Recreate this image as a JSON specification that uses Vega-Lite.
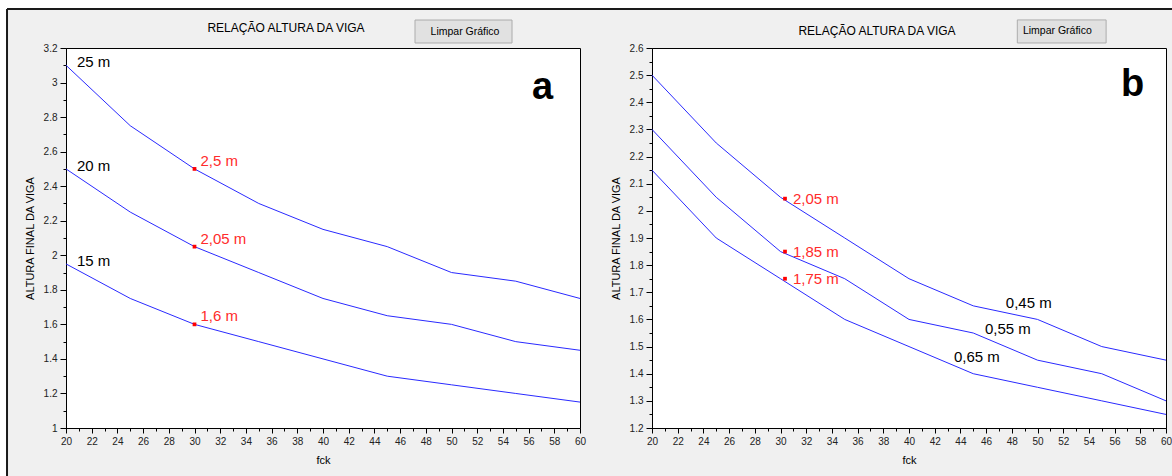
{
  "$schema": "https://vega.github.io/schema/vega-lite/v6.json",
  "background": "#f0f0f0",
  "autosize": {"type": "none"},
  "padding": {"left": 66, "top": 48, "right": 1106, "bottom": 428},
  "bounds": "flush",
  "spacing": 72,
  "config": {
    "font": "Liberation Sans",
    "view": {"stroke": "#000", "fill": "white", "strokeWidth": 1},
    "axis": {"domainColor": "#000", "tickColor": "#000", "labelColor": "#222", "labelFontSize": 10, "titleFontSize": 11, "titleFontWeight": "normal", "titleColor": "#000", "grid": false, "labelOverlap": false, "labelFlush": false, "tickSize": 6},
    "title": {"fontSize": 12, "fontWeight": "normal", "color": "#000"}
  },
  "datasets": {
    "a_lines": [
      {"fck": 20, "altura": 3.1, "vao": "25 m"}, {"fck": 25, "altura": 2.75, "vao": "25 m"}, {"fck": 30, "altura": 2.5, "vao": "25 m"}, {"fck": 35, "altura": 2.3, "vao": "25 m"}, {"fck": 40, "altura": 2.15, "vao": "25 m"}, {"fck": 45, "altura": 2.05, "vao": "25 m"}, {"fck": 50, "altura": 1.9, "vao": "25 m"}, {"fck": 55, "altura": 1.85, "vao": "25 m"}, {"fck": 60, "altura": 1.75, "vao": "25 m"},
      {"fck": 20, "altura": 2.5, "vao": "20 m"}, {"fck": 25, "altura": 2.25, "vao": "20 m"}, {"fck": 30, "altura": 2.05, "vao": "20 m"}, {"fck": 35, "altura": 1.9, "vao": "20 m"}, {"fck": 40, "altura": 1.75, "vao": "20 m"}, {"fck": 45, "altura": 1.65, "vao": "20 m"}, {"fck": 50, "altura": 1.6, "vao": "20 m"}, {"fck": 55, "altura": 1.5, "vao": "20 m"}, {"fck": 60, "altura": 1.45, "vao": "20 m"},
      {"fck": 20, "altura": 1.95, "vao": "15 m"}, {"fck": 25, "altura": 1.75, "vao": "15 m"}, {"fck": 30, "altura": 1.6, "vao": "15 m"}, {"fck": 35, "altura": 1.5, "vao": "15 m"}, {"fck": 40, "altura": 1.4, "vao": "15 m"}, {"fck": 45, "altura": 1.3, "vao": "15 m"}, {"fck": 50, "altura": 1.25, "vao": "15 m"}, {"fck": 55, "altura": 1.2, "vao": "15 m"}, {"fck": 60, "altura": 1.15, "vao": "15 m"}
    ],
    "a_points": [
      {"fck": 30, "altura": 2.5, "label": "2,5 m"},
      {"fck": 30, "altura": 2.05, "label": "2,05 m"},
      {"fck": 30, "altura": 1.6, "label": "1,6 m"}
    ],
    "a_labels": [
      {"fck": 20, "altura": 3.1, "label": "25 m"},
      {"fck": 20, "altura": 2.5, "label": "20 m"},
      {"fck": 20, "altura": 1.95, "label": "15 m"}
    ],
    "a_margin": [
      {"fck": 14.8, "fck2": 106.2, "altura": 3.48, "altura2": 3.4258},
      {"fck": 14.8, "fck2": 15.41, "altura": 3.48, "altura2": 0.7}
    ],
    "a_frame": [
      {"fck": 15.41, "fck2": 106.1, "altura": 3.4258, "altura2": 3.4258},
      {"fck": 15.41, "fck2": 15.41, "altura": 3.4258, "altura2": 0.7}
    ],
    "a_button": [
      {"fck": 47.16, "fck2": 54.71, "altura": 3.362, "altura2": 3.229, "label": "Limpar Gráfico"}
    ],
    "b_lines": [
      {"fck": 20, "altura": 2.5, "secao": "0,45 m"}, {"fck": 25, "altura": 2.25, "secao": "0,45 m"}, {"fck": 30, "altura": 2.05, "secao": "0,45 m"}, {"fck": 35, "altura": 1.9, "secao": "0,45 m"}, {"fck": 40, "altura": 1.75, "secao": "0,45 m"}, {"fck": 45, "altura": 1.65, "secao": "0,45 m"}, {"fck": 50, "altura": 1.6, "secao": "0,45 m"}, {"fck": 55, "altura": 1.5, "secao": "0,45 m"}, {"fck": 60, "altura": 1.45, "secao": "0,45 m"},
      {"fck": 20, "altura": 2.3, "secao": "0,55 m"}, {"fck": 25, "altura": 2.05, "secao": "0,55 m"}, {"fck": 30, "altura": 1.85, "secao": "0,55 m"}, {"fck": 35, "altura": 1.75, "secao": "0,55 m"}, {"fck": 40, "altura": 1.6, "secao": "0,55 m"}, {"fck": 45, "altura": 1.55, "secao": "0,55 m"}, {"fck": 50, "altura": 1.45, "secao": "0,55 m"}, {"fck": 55, "altura": 1.4, "secao": "0,55 m"}, {"fck": 60, "altura": 1.3, "secao": "0,55 m"},
      {"fck": 20, "altura": 2.15, "secao": "0,65 m"}, {"fck": 25, "altura": 1.9, "secao": "0,65 m"}, {"fck": 30, "altura": 1.75, "secao": "0,65 m"}, {"fck": 35, "altura": 1.6, "secao": "0,65 m"}, {"fck": 40, "altura": 1.5, "secao": "0,65 m"}, {"fck": 45, "altura": 1.4, "secao": "0,65 m"}, {"fck": 50, "altura": 1.35, "secao": "0,65 m"}, {"fck": 55, "altura": 1.3, "secao": "0,65 m"}, {"fck": 60, "altura": 1.25, "secao": "0,65 m"}
    ],
    "b_points": [
      {"fck": 30.35, "altura": 2.045, "label": "2,05 m"},
      {"fck": 30.35, "altura": 1.85, "label": "1,85 m"},
      {"fck": 30.35, "altura": 1.75, "label": "1,75 m"}
    ],
    "b_labels": [
      {"fck": 49.32, "altura": 1.662, "label": "0,45 m"},
      {"fck": 47.69, "altura": 1.566, "label": "0,55 m"},
      {"fck": 45.28, "altura": 1.462, "label": "0,65 m"}
    ],
    "b_button": [
      {"fck": 48.43, "fck2": 55.34, "altura": 2.7034, "altura2": 2.6185, "label": "Limpar Gráfico"}
    ]
  },
  "hconcat": [
    {
      "width": 514,
      "height": 380,
      "title": {"text": "RELAÇÃO ALTURA DA VIGA", "anchor": "middle", "frame": "group", "dx": -37, "offset": -35},
      "encoding": {
        "x": {"field": "fck", "type": "quantitative", "scale": {"domain": [20, 60], "nice": false, "zero": false},
          "axis": {"title": "fck", "titlePadding": 8, "labelPadding": 3, "format": "~g",
            "values": [20,21,22,23,24,25,26,27,28,29,30,31,32,33,34,35,36,37,38,39,40,41,42,43,44,45,46,47,48,49,50,51,52,53,54,55,56,57,58,59,60],
            "labelExpr": "datum.value % 2 === 0 ? datum.label : ''",
            "tickSize": {"condition": {"test": "datum.value % 2 === 0", "value": 5}, "value": 3}}},
        "y": {"field": "altura", "type": "quantitative", "scale": {"domain": [1, 3.2], "nice": false, "zero": false},
          "axis": {"title": "ALTURA FINAL DA VIGA", "titlePadding": 8, "labelPadding": 3, "format": "~g",
            "values": [1,1.1,1.2,1.3,1.4,1.5,1.6,1.7,1.8,1.9,2,2.1,2.2,2.3,2.4,2.5,2.6,2.7,2.8,2.9,3,3.1,3.2],
            "labelExpr": "round(datum.value*10) % 2 === 0 ? datum.label : ''",
            "tickSize": {"condition": {"test": "round(datum.value*10) % 2 === 0", "value": 6}, "value": 3}}}
      },
      "layer": [
        {"data": {"name": "a_margin"}, "mark": {"type": "rect", "fill": "#ffffff", "strokeWidth": 0, "clip": false},
          "encoding": {"x2": {"field": "fck2"}, "y2": {"field": "altura2"}}},
        {"data": {"name": "a_frame"}, "mark": {"type": "rule", "color": "#1a1a1a", "strokeWidth": 2, "clip": false},
          "encoding": {"x2": {"field": "fck2"}, "y2": {"field": "altura2"}}},
        {"data": {"name": "a_button"}, "mark": {"type": "rect", "fill": "#e1e1e1", "stroke": "#adadad", "strokeWidth": 1, "clip": false},
          "encoding": {"x2": {"field": "fck2"}, "y2": {"field": "altura2"}}},
        {"data": {"name": "a_button"}, "mark": {"type": "text", "fontSize": 10.5, "color": "#000", "align": "center", "baseline": "middle", "dx": 50, "dy": 11.5, "clip": false},
          "encoding": {"text": {"field": "label"}}},
        {"data": {"name": "a_lines"}, "mark": {"type": "line", "color": "#2a2aff", "strokeWidth": 1},
          "encoding": {"detail": {"field": "vao"}}},
        {"data": {"name": "a_points"}, "mark": {"type": "square", "color": "#ff0000", "filled": true, "size": 14, "opacity": 1}},
        {"data": {"name": "a_points"}, "mark": {"type": "text", "color": "#ff2b2b", "fontSize": 15, "align": "left", "baseline": "middle", "dx": 6, "dy": -8},
          "encoding": {"text": {"field": "label"}}},
        {"data": {"name": "a_labels"}, "mark": {"type": "text", "color": "#000", "fontSize": 15, "align": "left", "baseline": "middle", "dx": 11, "dy": -3},
          "encoding": {"text": {"field": "label"}}},
        {"data": {"values": [{"fck": 57.08, "altura": 2.905, "label": "a"}]}, "mark": {"type": "text", "color": "#000", "fontSize": 38, "fontWeight": "bold", "align": "center", "baseline": "alphabetic"},
          "encoding": {"text": {"field": "label"}}}
      ]
    },
    {
      "width": 514,
      "height": 380,
      "title": {"text": "RELAÇÃO ALTURA DA VIGA", "anchor": "middle", "frame": "group", "dx": -32, "offset": -19},
      "encoding": {
        "x": {"field": "fck", "type": "quantitative", "scale": {"domain": [20, 60], "nice": false, "zero": false},
          "axis": {"title": "fck", "titlePadding": 8, "labelPadding": 3, "format": "~g",
            "values": [20,21,22,23,24,25,26,27,28,29,30,31,32,33,34,35,36,37,38,39,40,41,42,43,44,45,46,47,48,49,50,51,52,53,54,55,56,57,58,59,60],
            "labelExpr": "datum.value % 2 === 0 ? datum.label : ''",
            "tickSize": {"condition": {"test": "datum.value % 2 === 0", "value": 5}, "value": 3}}},
        "y": {"field": "altura", "type": "quantitative", "scale": {"domain": [1.2, 2.6], "nice": false, "zero": false},
          "axis": {"title": "ALTURA FINAL DA VIGA", "titlePadding": 8, "labelPadding": 3, "format": "~g",
            "values": [1.2,1.25,1.3,1.35,1.4,1.45,1.5,1.55,1.6,1.65,1.7,1.75,1.8,1.85,1.9,1.95,2,2.05,2.1,2.15,2.2,2.25,2.3,2.35,2.4,2.45,2.5,2.55,2.6],
            "labelExpr": "round(datum.value*20) % 2 === 0 ? datum.label : ''",
            "tickSize": {"condition": {"test": "round(datum.value*20) % 2 === 0", "value": 6}, "value": 3}}}
      },
      "layer": [
        {"data": {"name": "b_button"}, "mark": {"type": "rect", "fill": "#e1e1e1", "stroke": "#adadad", "strokeWidth": 1, "clip": false},
          "encoding": {"x2": {"field": "fck2"}, "y2": {"field": "altura2"}}},
        {"data": {"name": "b_button"}, "mark": {"type": "text", "fontSize": 10.5, "color": "#000", "align": "center", "baseline": "middle", "dx": 40, "dy": 11.5, "clip": false},
          "encoding": {"text": {"field": "label"}}},
        {"data": {"name": "b_lines"}, "mark": {"type": "line", "color": "#2a2aff", "strokeWidth": 1},
          "encoding": {"detail": {"field": "secao"}}},
        {"data": {"name": "b_points"}, "mark": {"type": "square", "color": "#ff0000", "filled": true, "size": 14, "opacity": 1}},
        {"data": {"name": "b_points"}, "mark": {"type": "text", "color": "#ff2b2b", "fontSize": 15, "align": "left", "baseline": "middle", "dx": 8, "dy": 0},
          "encoding": {"text": {"field": "label"}}},
        {"data": {"name": "b_labels"}, "mark": {"type": "text", "color": "#000", "fontSize": 15, "align": "center", "baseline": "middle"},
          "encoding": {"text": {"field": "label"}}},
        {"data": {"values": [{"fck": 57.4, "altura": 2.423, "label": "b"}]}, "mark": {"type": "text", "color": "#000", "fontSize": 38, "fontWeight": "bold", "align": "center", "baseline": "alphabetic"},
          "encoding": {"text": {"field": "label"}}}
      ]
    }
  ]
}
